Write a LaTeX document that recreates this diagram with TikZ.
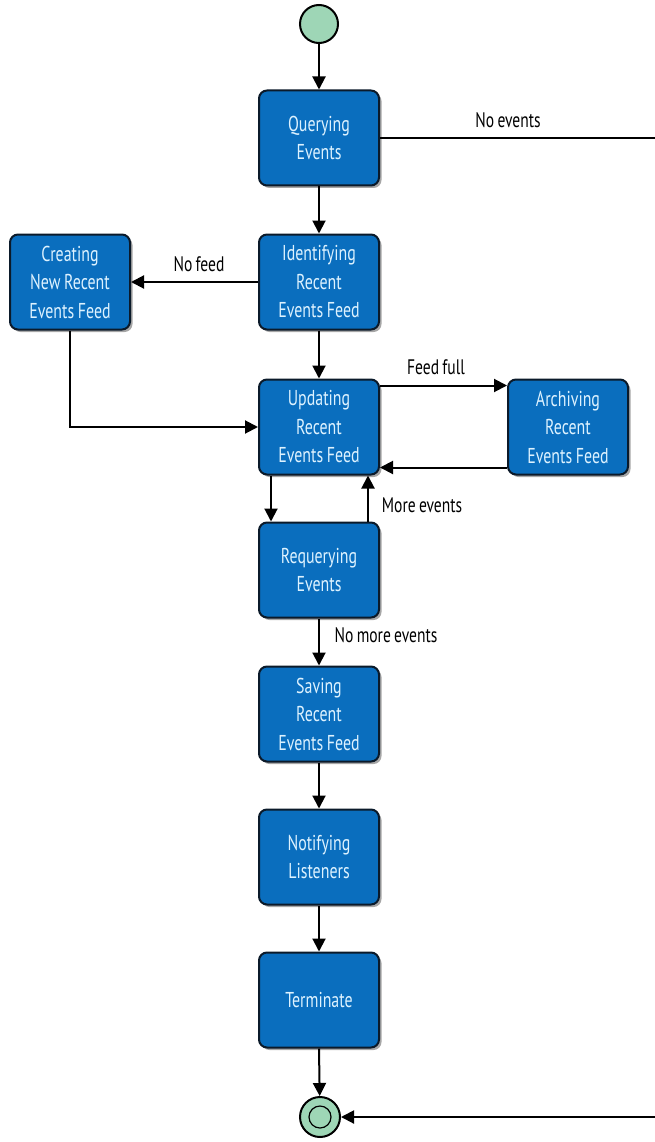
\documentclass[tikz,border=0pt]{standalone}
\usepackage{fontspec}
\setmainfont{PT Sans}[FakeStretch=0.74,WordSpace=0.8]
\newfontfamily\boxfont{PT Sans}[FakeStretch=0.74,WordSpace=0.85]
\usetikzlibrary{arrows.meta,shadows,calc}
\definecolor{boxblue}{HTML}{0A6EBE}
\definecolor{boxtext}{HTML}{DDF2FF}
\definecolor{boxline}{HTML}{0B1A2A}
\definecolor{mint}{HTML}{9ED6B6}
\tikzset{
  state/.style={draw=boxline, line width=2pt, fill=boxblue, rounded corners=8pt,
    minimum width=120pt, minimum height=95pt, inner sep=2pt, align=center,
    text=boxtext, font=\boxfont\fontsize{21.5}{28.5}\selectfont,
    drop shadow={shadow xshift=2.5pt, shadow yshift=-2.5pt, opacity=0.35, fill=black}},
  pseudo/.style={circle, draw=black, line width=2pt, fill=mint, minimum size=#1, inner sep=0pt},
  arr/.style={line width=2pt, -{Triangle[length=13pt,width=13pt]}},
  ln/.style={line width=2pt},
  lbl/.style={font=\fontsize{21}{24}\selectfont, text=black, inner sep=0pt}
}
\begin{document}
\begin{tikzpicture}[x=1pt,y=-1pt]
\clip (0,0) rectangle (655,1142);
\fill[white] (0,0) rectangle (655,1142);
\node[pseudo=38pt] (start) at (319,24) {};
\node[state] (q) at (319,138) {Querying\\Events};
\node[state] (id) at (319,282) {Identifying\\Recent\\Events Feed};
\node[state] (cr) at (70,282) {Creating\\New Recent\\Events Feed};
\node[state] (up) at (319,427) {Updating\\Recent\\Events Feed};
\node[state] (ar) at (568,427) {Archiving\\Recent\\Events Feed};
\node[state] (rq) at (319,570) {Requerying\\Events};
\node[state] (sv) at (319,714) {Saving\\Recent\\Events Feed};
\node[state] (nt) at (319,857) {Notifying\\Listeners};
\node[state] (tm) at (319,1000) {Terminate};
\node[pseudo=40pt] (end) at (320,1117) {};
\node[circle, draw=black, line width=1.2pt, fill=mint, minimum size=22pt, inner sep=0pt] (endin) at (end) {};
\coordinate (rt) at (660,138);
\coordinate (rb) at (660,1117);

\draw[arr] (start) -- (q);
\draw[arr] (q) -- (id);
\draw[arr] (id) -- (up);
\draw[arr] (id) -- (cr);
\draw[arr] (cr.south) |- (up.west);
\draw[arr] ([yshift=-7pt]up.north east) -- ([yshift=-7pt]ar.north west);
\draw[arr] ([yshift=8pt]ar.south west) -- ([yshift=8pt]up.south east);
\draw[arr] ([xshift=13pt]up.south west) -- ([xshift=13pt]rq.north west);
\draw[arr] ([xshift=-12pt]rq.north east) -- ([xshift=-12pt]up.south east);
\draw[arr] (rq) -- (sv);
\draw[arr] (sv) -- (nt);
\draw[arr] (nt) -- (tm);
\draw[arr] (tm.south) -- (end);
\draw[ln] (q.east) -- (rt);
\draw[ln] (rt) -- (rb);
\draw[arr] (rb) -- (end);

\node[lbl] (l1) at (508,120) {No events};
\node[lbl] (l2) at (199,264) {No feed};
\node[lbl] (l3) at (436,367) {Feed full};
\node[lbl] (l4) at (422,505) {More events};
\node[lbl] (l5) at (386,635) {No more events};
\end{tikzpicture}
\end{document}
